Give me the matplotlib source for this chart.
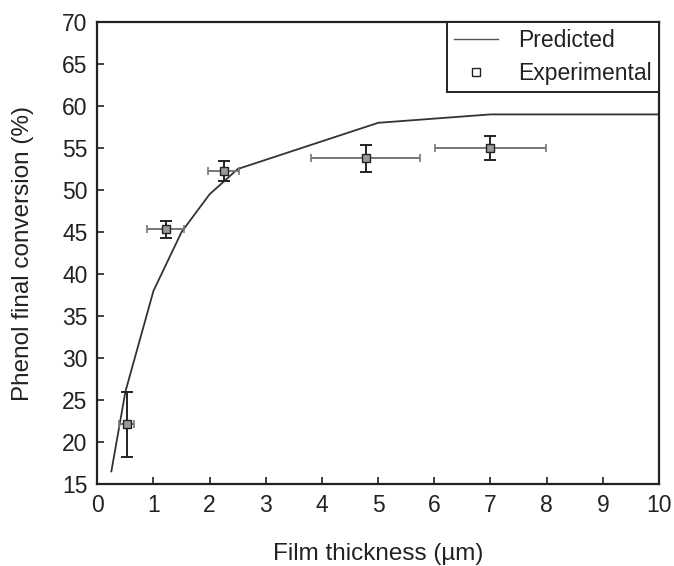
import matplotlib
matplotlib.use("Agg")
import matplotlib.pyplot as plt
from matplotlib.lines import Line2D

plt.rcParams.update({
    "font.family": ["Liberation Sans", "DejaVu Sans"],
    "font.size": 16,
})

# model prediction
pred_x = [0.25, 0.5, 1.0, 1.5, 2.0, 2.5, 5.0, 7.0, 10.0]
pred_y = [16.5, 26.0, 38.0, 45.0, 49.5, 52.5, 58.0, 59.0, 59.0]

# measurements with uncertainties
exp_x = [0.52, 1.22, 2.25, 4.78, 7.0]
exp_y = [22.1, 45.3, 52.3, 53.8, 55.0]
exp_xerr = [0.14, 0.33, 0.28, 0.97, 0.98]
exp_yerr = [3.9, 1.0, 1.2, 1.6, 1.4]

fig = plt.figure(figsize=(6.74, 5.66), dpi=100)
ax = fig.add_axes([0.1444, 0.1449, 0.8333, 0.8162])

ax.plot(pred_x, pred_y, color="#333333", lw=1.3, zorder=2)

# horizontal bars grey, vertical bars black
ax.errorbar(exp_x, exp_y, xerr=exp_xerr, fmt="none", ecolor="#777777",
            elinewidth=1.4, capsize=3, capthick=1.2, zorder=3)
ax.errorbar(exp_x, exp_y, yerr=exp_yerr, fmt="none", ecolor="#222222",
            elinewidth=1.4, capsize=4, capthick=1.4, zorder=4)
ax.plot(exp_x, exp_y, ls="none", marker="s", ms=5.5, mfc="#999999",
        mec="#222222", mew=1.0, zorder=5)

ax.set_xlim(0, 10)
ax.set_ylim(15, 70)
ax.set_xticks(range(0, 11))
ax.set_yticks(range(15, 71, 5))
ax.tick_params(direction="in", length=5, width=1.2, top=False, right=False,
               colors="#222222", labelsize=16.5, pad=7)
for side in ("left", "bottom", "top", "right"):
    ax.spines[side].set_linewidth(1.6)
    ax.spines[side].set_color("#222222")

ax.set_xlabel("Film thickness (µm)", fontsize=17.5, labelpad=19, color="#222222")
ax.set_ylabel("Phenol final conversion (%)", fontsize=17.5, labelpad=20,
              color="#222222")

handles = [
    Line2D([], [], color="#555555", lw=1.0),
    Line2D([], [], ls="none", marker="s", ms=5.5, mfc="white", mec="#222222",
           mew=1.0),
]
leg = ax.legend(handles, ["Predicted", "Experimental"], loc="upper right",
                borderaxespad=0, fancybox=False, framealpha=1,
                edgecolor="#222222", fontsize=16.5, handlelength=1.9,
                borderpad=0.3, labelspacing=0.45, handletextpad=0.9)
leg.get_frame().set_linewidth(1.4)
for t in leg.get_texts():
    t.set_color("#222222")

fig.savefig("out.png", dpi=100)
